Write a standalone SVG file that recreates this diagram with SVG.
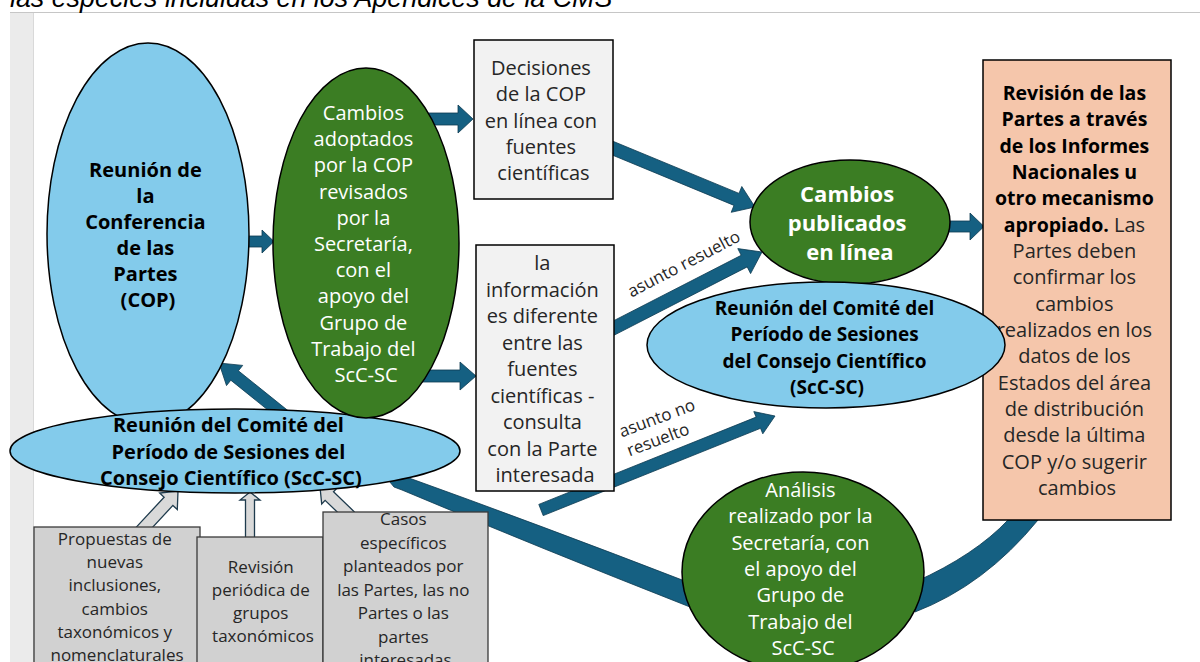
<svg xmlns="http://www.w3.org/2000/svg" width="1200" height="662" viewBox="0 0 1200 662">
<style>
text{font-family:"Open Sans","Noto Sans","Liberation Sans",sans-serif;text-anchor:middle}
.b{font-weight:700;fill:#000}
.w{fill:#fff}
.wb{fill:#fff;font-weight:700}
.d{fill:#262626}
.lbl{fill:#262626;font-size:17px}
.blue{fill:#83cbeb;stroke:#000;stroke-width:1.5}
.green{fill:#3b7d23;stroke:#000;stroke-width:1.5}
.box{fill:#f2f2f2;stroke:#000;stroke-width:1.5}
.gbox{fill:#d1d1d1;stroke:#3a3a3a;stroke-width:1.3}
.pink{fill:#f5c6ab;stroke:#000;stroke-width:1.5}
.arr{fill:#156082;stroke:#0c3a50;stroke-width:0.8}
.harr{fill:#d9d9d9;stroke:#1f3b4d;stroke-width:1.3}
</style>
<rect x="0" y="0" width="1200" height="662" fill="#fff"/>
<rect x="10" y="12" width="23" height="650" fill="#ebebeb"/>
<line x1="33.5" y1="12" x2="33.5" y2="662" stroke="#d9d9d9" stroke-width="1"/>
<line x1="10" y1="12.5" x2="1200" y2="12.5" stroke="#c6c6c6" stroke-width="1.2"/>
<text x="10" y="7" style="font-family:'Liberation Sans',Arial,sans-serif;font-style:italic;font-size:26.8px;text-anchor:start" fill="#000">las especies incluidas en los Apéndices de la CMS</text>

<g id="connectors">
  <path class="arr" d="M380 470 L398 474 Q540 525 690 583 L690 607 Q540 548 402 490 L394 487 Z"/>
  <path class="arr" d="M915 582 Q975 555 1008 520 L1038 520 Q985 585 915 612 Z"/>
  <polygon class="arr" points="240,236 262,236 262,230 274,241.5 262,253 262,247 240,247"/>
  <polygon class="arr" points="425,113 458,113 458,105 473,119 458,133 458,125 425,125"/>
  <polygon class="arr" points="415,370 460,370 460,362 476,376 460,390 460,382 415,382"/>
  <polygon class="arr" points="602.5,151 607.5,139 739,193.4 741.8,186.5 755,207 731.2,212.3 734,205.4"/>
  <polygon class="arr" points="609,337.8 603,326.2 741.2,255.3 737.8,248.6 762,252 750.6,273.6 747.2,266.9"/>
  <polygon class="arr" points="543.2,515.6 538.8,504.4 756.1,417.1 753.8,411.6 775,416 762.8,433.8 760.5,428.3"/>
  <polygon class="arr" points="940,221 970,221 970,213 984,226.5 970,240 970,232 940,232"/>
  <polygon class="arr" points="293.8,415.3 286.2,424.7 230.8,380.2 226.5,385.6 219,363 242.7,365.4 238.4,370.8"/>
  <polygon class="harr" points="144.4,536.1 135.6,527.9 164.1,497.2 159.7,493.1 178,491 177.3,509.5 172.9,505.4"/>
  <polygon class="harr" points="245.5,540 245.5,500 240,500 250,492 260,500 254.5,500 254.5,540"/>
  <polygon class="harr" points="354.2,511.7 345.8,520.3 325.1,500.3 321.7,503.9 320,487 337,488.1 333.5,491.7"/>
  <text class="lbl" transform="translate(686.5 269) rotate(-27.5)">asunto resuelto</text>
  <text class="lbl" transform="translate(659 423.5) rotate(-20.5)">asunto no</text>
  <text class="lbl" transform="translate(660 445) rotate(-20.5)">resuelto</text>
</g>

<g id="cop">
  <ellipse class="blue" cx="148" cy="234" rx="101" ry="191"/>
  <text class="b" style="font-size:20px">
    <tspan x="148" y="176.5">Reunión de</tspan>
    <tspan x="148" y="202.5">la</tspan>
    <tspan x="148" y="228.5">Conferencia</tspan>
    <tspan x="148" y="254.5">de las</tspan>
    <tspan x="148" y="280.5">Partes</tspan>
    <tspan x="148" y="306.5">(COP)</tspan>
  </text>
</g>

<g id="scc-left">
  <ellipse class="blue" cx="235" cy="451" rx="225" ry="42"/>
  <text class="b" style="font-size:20px">
    <tspan x="231" y="432">Reunión del Comité del</tspan>
    <tspan x="231" y="458.5">Período de Sesiones del</tspan>
    <tspan x="231" y="485">Consejo Científico (ScC-SC)</tspan>
  </text>
</g>

<g id="cambios-adoptados">
  <ellipse class="green" cx="366" cy="243" rx="93" ry="175"/>
  <text class="w" style="font-size:20px">
    <tspan x="366" y="120">Cambios</tspan>
    <tspan x="366" y="146.2">adoptados</tspan>
    <tspan x="366" y="172.4">por la COP</tspan>
    <tspan x="366" y="198.6">revisados</tspan>
    <tspan x="366" y="224.8">por la</tspan>
    <tspan x="366" y="251">Secretaría,</tspan>
    <tspan x="366" y="277.2">con el</tspan>
    <tspan x="366" y="303.4">apoyo del</tspan>
    <tspan x="366" y="329.6">Grupo de</tspan>
    <tspan x="366" y="355.8">Trabajo del</tspan>
    <tspan x="366" y="382">ScC-SC</tspan>
  </text>
</g>

<g id="decisiones">
  <rect class="box" x="474" y="40" width="139" height="159"/>
  <text class="d" style="font-size:20px">
    <tspan x="543.5" y="75">Decisiones</tspan>
    <tspan x="543.5" y="101.2">de la COP</tspan>
    <tspan x="543.5" y="127.5">en línea con</tspan>
    <tspan x="543.5" y="153.7">fuentes</tspan>
    <tspan x="543.5" y="180">científicas</tspan>
  </text>
</g>

<g id="informacion">
  <rect class="box" x="476" y="245" width="138" height="246"/>
  <text class="d" style="font-size:20px">
    <tspan x="545" y="270">la</tspan>
    <tspan x="545" y="296.5">información</tspan>
    <tspan x="545" y="323">es diferente</tspan>
    <tspan x="545" y="349.5">entre las</tspan>
    <tspan x="545" y="376">fuentes</tspan>
    <tspan x="545" y="402.5">científicas -</tspan>
    <tspan x="545" y="429">consulta</tspan>
    <tspan x="545" y="455.5">con la Parte</tspan>
    <tspan x="545" y="482">interesada</tspan>
  </text>
</g>

<g id="cambios-publicados">
  <ellipse class="green" cx="850" cy="222" rx="100" ry="62"/>
  <text class="wb" style="font-size:22px">
    <tspan x="850" y="202">Cambios</tspan>
    <tspan x="850" y="231">publicados</tspan>
    <tspan x="850" y="260">en línea</tspan>
  </text>
</g>

<g id="revision-partes">
  <rect class="pink" x="983" y="60" width="188" height="460"/>
  <text class="d" style="font-size:20px">
    <tspan x="1077" y="100" class="b" style="font-size:19.5px">Revisión de las</tspan>
    <tspan x="1077" y="126.3" class="b" style="font-size:19.5px">Partes a través</tspan>
    <tspan x="1077" y="152.7" class="b" style="font-size:19.5px">de los Informes</tspan>
    <tspan x="1077" y="179" class="b" style="font-size:19.5px">Nacionales u</tspan>
    <tspan x="1077" y="205.3" class="b" style="font-size:19.5px">otro mecanismo</tspan>
    <tspan x="1077" y="231.7"><tspan class="b" style="font-size:19.5px">apropiado.</tspan> Las</tspan>
    <tspan x="1077" y="258">Partes deben</tspan>
    <tspan x="1077" y="284.3">confirmar los</tspan>
    <tspan x="1077" y="310.7">cambios</tspan>
    <tspan x="1077" y="337">realizados en los</tspan>
    <tspan x="1077" y="363.3">datos de los</tspan>
    <tspan x="1077" y="389.7">Estados del área</tspan>
    <tspan x="1077" y="416">de distribución</tspan>
    <tspan x="1077" y="442.3">desde la última</tspan>
    <tspan x="1077" y="468.7">COP y/o sugerir</tspan>
    <tspan x="1077" y="495">cambios</tspan>
  </text>
</g>

<g id="scc-right">
  <ellipse class="blue" cx="826" cy="345" rx="179" ry="63"/>
  <text class="b" style="font-size:19px">
    <tspan x="827" y="315">Reunión del Comité del</tspan>
    <tspan x="827" y="341">Período de Sesiones</tspan>
    <tspan x="827" y="367.5">del Consejo Científico</tspan>
    <tspan x="827" y="393.5">(ScC-SC)</tspan>
  </text>
</g>

<g id="analisis">
  <ellipse class="green" cx="803" cy="572" rx="121" ry="100"/>
  <text class="w" style="font-size:20px">
    <tspan x="803" y="497">Análisis</tspan>
    <tspan x="803" y="523.3">realizado por la</tspan>
    <tspan x="803" y="549.7">Secretaría, con</tspan>
    <tspan x="803" y="576">el apoyo del</tspan>
    <tspan x="803" y="602.3">Grupo de</tspan>
    <tspan x="803" y="628.7">Trabajo del</tspan>
    <tspan x="803" y="655">ScC-SC</tspan>
  </text>
</g>

<g id="propuestas">
  <rect class="gbox" x="34" y="527" width="166" height="150"/>
  <text class="d" style="font-size:17px">
    <tspan x="117" y="545">Propuestas de</tspan>
    <tspan x="117" y="568.2">nuevas</tspan>
    <tspan x="117" y="591.4">inclusiones,</tspan>
    <tspan x="117" y="614.6">cambios</tspan>
    <tspan x="117" y="637.8">taxonómicos y</tspan>
    <tspan x="117" y="661">nomenclaturales</tspan>
  </text>
</g>

<g id="revision-periodica">
  <rect class="gbox" x="197" y="537" width="126" height="140"/>
  <text class="d" style="font-size:17px">
    <tspan x="263" y="573">Revisión</tspan>
    <tspan x="263" y="596">periódica de</tspan>
    <tspan x="263" y="619">grupos</tspan>
    <tspan x="263" y="642">taxonómicos</tspan>
  </text>
</g>

<g id="casos">
  <rect class="gbox" x="323" y="512" width="165" height="165"/>
  <text class="d" style="font-size:17px">
    <tspan x="405.5" y="525">Casos</tspan>
    <tspan x="405.5" y="548.5">específicos</tspan>
    <tspan x="405.5" y="572">planteados por</tspan>
    <tspan x="405.5" y="595.5">las Partes, las no</tspan>
    <tspan x="405.5" y="619">Partes o las</tspan>
    <tspan x="405.5" y="642.5">partes</tspan>
    <tspan x="405.5" y="666">interesadas</tspan>
  </text>
</g>
</svg>
